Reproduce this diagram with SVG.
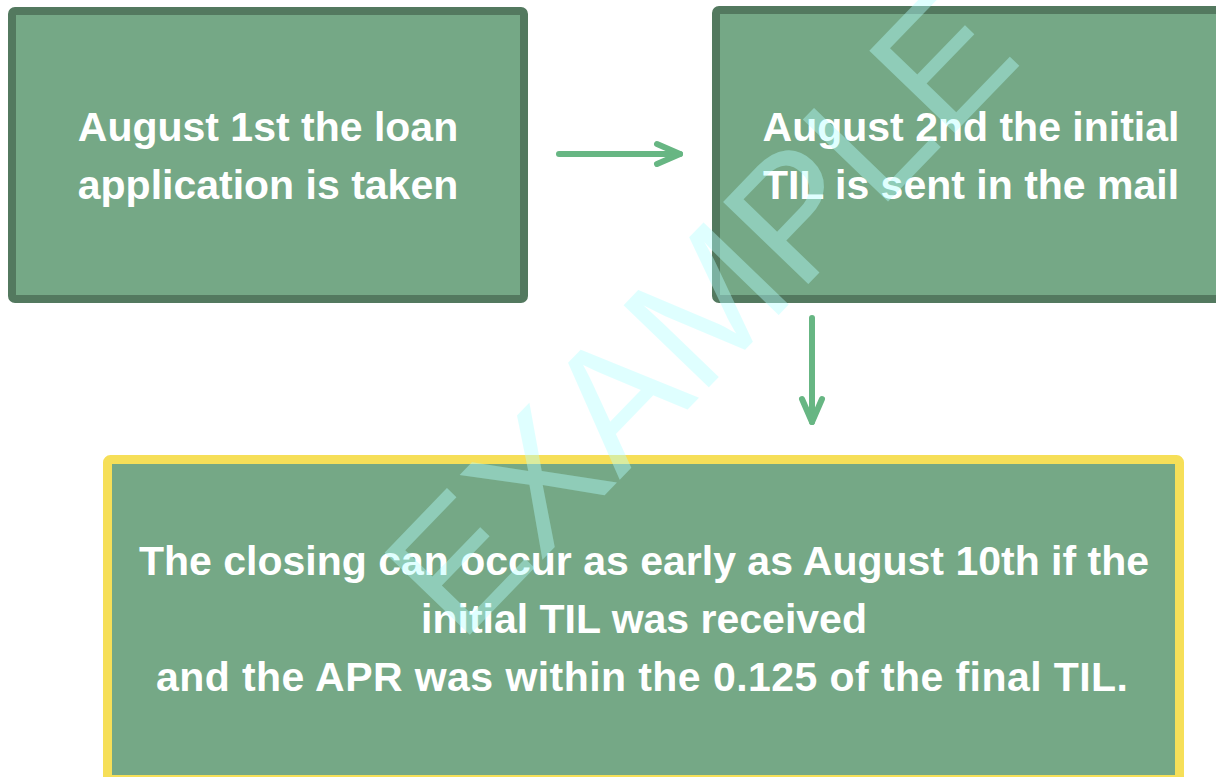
<svg xmlns="http://www.w3.org/2000/svg" width="1216" height="777" viewBox="0 0 1216 777">
<style>
.box{fill:#75a886;stroke:#53795f;stroke-width:8}
.final{fill:#75a886;stroke:#f6df58;stroke-width:9}
.lbl{font-family:"Liberation Sans",Arial,sans-serif;font-weight:bold;font-size:41px;fill:#ffffff;text-anchor:middle}
.conn{stroke:#67b683;stroke-width:6;fill:none;stroke-linecap:round;stroke-linejoin:round}
.wm{font-family:"Liberation Sans",Arial,sans-serif;font-size:172px;fill:#b3ffff;fill-opacity:0.42}
</style>
<defs>
<marker id="chev" markerUnits="userSpaceOnUse" viewBox="-30 -20 40 40" refX="0" refY="0" markerWidth="40" markerHeight="40" orient="auto" overflow="visible">
<path d="M-23,-10 L0,0 L-23,10" class="conn"/>
</marker>
</defs>
<rect width="1216" height="777" fill="#ffffff"/>
<g id="node-app">
<rect class="box" x="12" y="11" width="512" height="288" rx="3"/>
<text class="lbl" x="268" y="141">August 1st the loan</text>
<text class="lbl" x="268" y="199">application is taken</text>
</g>
<g id="node-til">
<rect class="box" x="716" y="10" width="510" height="289" rx="3"/>
<text class="lbl" x="971" y="141">August 2nd the initial</text>
<text class="lbl" x="971" y="199">TIL is sent in the mail</text>
</g>
<g id="node-closing">
<rect class="final" x="107.5" y="459.5" width="1072" height="320" rx="3"/>
<text class="lbl" x="644" y="575">The closing can occur as early as August 10th if the</text>
<text class="lbl" x="644" y="633">initial TIL was received</text>
<text class="lbl" x="642" y="691" textLength="972" lengthAdjust="spacing">and the APR was within the 0.125 of the final TIL.</text>
</g>
<g id="connectors">
<path class="conn" d="M559,154 H680" marker-end="url(#chev)"/>
<path class="conn" d="M812,318 V422" marker-end="url(#chev)"/>
</g>
<g id="watermark">
<text class="wm" transform="translate(460,645) rotate(-46)">EXAMPLE</text>
</g>
</svg>
